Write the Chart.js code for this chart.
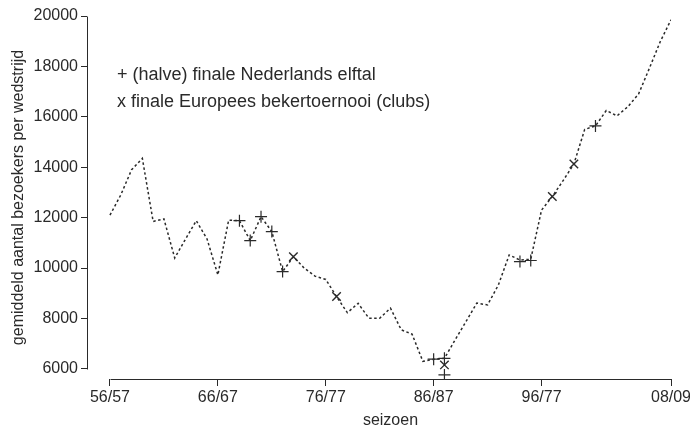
<!DOCTYPE html>
<html>
<head>
<meta charset="utf-8">
<script src="https://cdn.jsdelivr.net/npm/chart.js@4.4.0/dist/chart.umd.min.js"></script>
<style>
  html, body { margin: 0; padding: 0; background: #fff; }
  #wrap { position: relative; width: 690px; height: 431px; }
  #legend {
    position: absolute; left: 117px; top: 61px;
    font: 18px "Liberation Sans", Arial, sans-serif; color: #2a2a2a; line-height: 27px;
  }
</style>
</head>
<body>
<div id="wrap">
  <canvas id="chart" width="690" height="431"></canvas>
  <div id="legend">
    <div>+ (halve) finale Nederlands elftal</div>
    <div>x finale Europees bekertoernooi (clubs)</div>
  </div>
</div>
<script>
// seizoenen 56/57 .. 08/09
const seasons = [
  "56/57", "57/58", "58/59", "59/60", "60/61", "61/62", "62/63", "63/64", "64/65", "65/66",
  "66/67", "67/68", "68/69", "69/70", "70/71", "71/72", "72/73", "73/74", "74/75", "75/76",
  "76/77", "77/78", "78/79", "79/80", "80/81", "81/82", "82/83", "83/84", "84/85", "85/86",
  "86/87", "87/88", "88/89", "89/90", "90/91", "91/92", "92/93", "93/94", "94/95", "95/96",
  "96/97", "97/98", "98/99", "99/00", "00/01", "01/02", "02/03", "03/04", "04/05", "05/06",
  "06/07", "07/08", "08/09"
];
const attendance = [
  12100, 12900, 13900, 14350, 11850, 11950, 10400, 11150, 11880, 11150,
  9730, 11900, 11880, 11090, 12040, 11450, 9860, 10450, 10000, 9680,
  9550, 8870, 8230, 8600, 8010, 8010, 8410, 7550, 7380, 6300,
  6380, 6420, 7160, 7880, 8610, 8540, 9330, 10520, 10320, 10350,
  12300, 12840, 13470, 14130, 15500, 15640, 16250, 16040, 16400, 16910,
  17930, 18980, 19850
];

// (halve) finale Nederlands elftal
const plusSeasons = ["68/69", "69/70", "70/71", "71/72", "72/73", "86/87", "87/88", "87/88", "94/95", "95/96", "01/02"];
const plusValues = [11880, 11090, 12040, 11450, 9860, 6385, 6420, 5760, 10260, 10300, 15640];

// finale Europees bekertoernooi (clubs)
const crossSeasons = ["73/74", "77/78", "87/88", "97/98", "99/00"];
const crossValues = [10450, 8870, 6160, 12840, 14130];

const xTickPositions = [0, 10, 20, 30, 40, 52];
const xTickLabels = ["56/57", "66/67", "76/77", "86/87", "96/77", "08/09"];
const yTicks = [6000, 8000, 10000, 12000, 14000, 16000, 18000, 20000];

const ink = "#2a2a2a";
const fontFamily = '"Liberation Sans", Arial, sans-serif';

const axisLines = {
  id: "axisLines",
  afterDraw(chart) {
    const { ctx, chartArea, scales } = chart;
    const x = scales.x, y = scales.y;
    const xl = Math.round(chartArea.left) + 0.5;
    const yb = Math.round(chartArea.bottom) + 0.5;
    const x0 = x.getPixelForValue(xTickPositions[0]);
    const x1 = x.getPixelForValue(xTickPositions[xTickPositions.length - 1]);
    ctx.save();
    ctx.strokeStyle = ink;
    ctx.lineWidth = 1;
    ctx.beginPath();
    ctx.moveTo(xl, Math.round(y.getPixelForValue(yTicks[0])) + 0.5);
    ctx.lineTo(xl, Math.round(y.getPixelForValue(yTicks[yTicks.length - 1])) + 0.5);
    ctx.moveTo(Math.round(x0) + 0.5, yb);
    ctx.lineTo(Math.round(x1) + 0.5, yb);
    ctx.stroke();
    ctx.fillStyle = ink;
    ctx.font = "16px " + fontFamily;
    ctx.textAlign = "center";
    ctx.textBaseline = "middle";
    ctx.fillText("seizoen", (x0 + x1) / 2, 421);
    ctx.restore();
  }
};

new Chart(document.getElementById("chart").getContext("2d"), {
  type: "line",
  data: {
    datasets: [
      {
        label: "gemiddeld aantal bezoekers",
        data: attendance.map((v, i) => ({ x: i, y: v })),
        borderColor: ink,
        borderWidth: 1.5,
        borderDash: [2.5, 2.5],
        pointRadius: 0,
        tension: 0,
        fill: false
      },
      {
        label: "(halve) finale Nederlands elftal",
        data: plusSeasons.map((s, i) => ({ x: seasons.indexOf(s), y: plusValues[i] })),
        showLine: false,
        pointStyle: "cross",
        pointRadius: 6,
        borderColor: ink,
        borderWidth: 1.2
      },
      {
        label: "finale Europees bekertoernooi (clubs)",
        data: crossSeasons.map((s, i) => ({ x: seasons.indexOf(s), y: crossValues[i] })),
        showLine: false,
        pointStyle: "crossRot",
        pointRadius: 6,
        borderColor: ink,
        borderWidth: 1.4
      }
    ]
  },
  options: {
    responsive: false,
    animation: false,
    devicePixelRatio: 1,
    layout: { padding: { top: 16, right: 19, left: 0, bottom: 0 } },
    plugins: { legend: { display: false }, tooltip: { enabled: false } },
    scales: {
      x: {
        type: "linear",
        min: -2.13,
        max: 52,
        afterBuildTicks: (s) => { s.ticks = xTickPositions.map((v) => ({ value: v })); },
        afterFit: (s) => { s.height = 52; s.paddingLeft = 0; s.paddingRight = 0; },
        ticks: {
          autoSkip: false,
          maxRotation: 0,
          padding: 2,
          color: ink,
          font: { size: 16, family: fontFamily },
          callback: (v) => xTickLabels[xTickPositions.indexOf(v)]
        },
        grid: { drawOnChartArea: false, drawTicks: true, tickLength: 7, color: ink, lineWidth: 1 },
        border: { display: false }
      },
      y: {
        min: 5600,
        max: 20000,
        afterBuildTicks: (s) => { s.ticks = yTicks.map((v) => ({ value: v })); },
        afterFit: (s) => { s.width = 87; s.paddingTop = 0; s.paddingBottom = 0; },
        ticks: {
          padding: 3,
          color: ink,
          font: { size: 16, family: fontFamily },
          callback: (v) => String(v)
        },
        grid: { drawOnChartArea: false, drawTicks: true, tickLength: 6, color: ink, lineWidth: 1 },
        border: { display: false },
        title: {
          display: true,
          text: "gemiddeld aantal bezoekers per wedstrijd",
          color: ink,
          font: { size: 16, family: fontFamily },
          padding: { top: 9, bottom: 0 }
        }
      }
    }
  },
  plugins: [axisLines]
});
</script>
</body>
</html>
